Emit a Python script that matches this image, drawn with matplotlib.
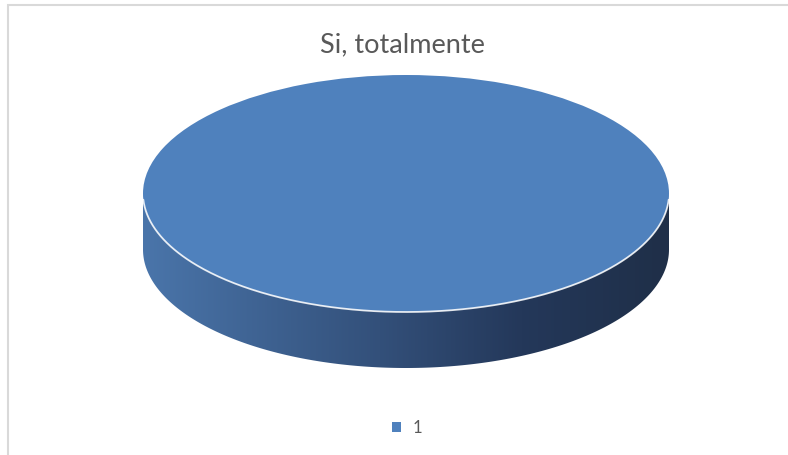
import numpy as np
import matplotlib
matplotlib.use('Agg')
import matplotlib.pyplot as plt
from matplotlib.colors import LinearSegmentedColormap
from matplotlib.patches import Polygon, Rectangle

# data
categories = ['1']
values = [1]
title = 'Si, totalmente'

top_color = '#4f81bd'
depth = 0.4726  # height of the disc side, in units of the ellipse half-height

fig = plt.figure(figsize=(7.88, 4.55), dpi=100)
fig.patch.set_facecolor('white')

# chart border (only the left and top edges are visible in the picture)
fig.patches.append(Rectangle((8 / 788, -0.2), 1.2, 0.2 + (455 - 5) / 455,
                             transform=fig.transFigure, fill=False,
                             edgecolor='#d9d9d9', lw=1.5, zorder=0))

ax = fig.add_axes([143 / 788, (455 - 368) / 455, 526 / 788, 293 / 455])

# side of the disc: band under the lower half of the top ellipse
th = np.linspace(np.pi, 2 * np.pi, 300)
xs = np.cos(th)
ys = np.sin(th)
side_xy = np.concatenate([np.column_stack([xs, ys]),
                          np.column_stack([xs[::-1], ys[::-1] - depth])])
side = Polygon(side_xy, closed=True, facecolor='none', edgecolor='none')
ax.add_patch(side)
cmap = LinearSegmentedColormap.from_list(
    'side', [(0.0, '#4a75aa'), (0.45, '#33507a'), (0.72, '#24385a'), (1.0, '#1f2f48')])
grad = np.linspace(0, 1, 256).reshape(1, -1)
im = ax.imshow(grad, cmap=cmap, extent=(-1, 1, -1 - depth, 0),
               aspect='auto', interpolation='bilinear', zorder=1)
im.set_clip_path(side)

# top face from the pie itself
wedges, _ = ax.pie(values, colors=[top_color], radius=1, center=(0, 0),
                   startangle=90, frame=True,
                   wedgeprops=dict(edgecolor='none', zorder=2))

# light rim along the front edge of the top face
ax.plot(xs[5:-5], ys[5:-5], color='white', lw=1.3, alpha=0.85, zorder=3,
        solid_capstyle='round')

ax.set_aspect('auto')
ax.set_xlim(-1, 1)
ax.set_ylim(-1 - depth, 1)
ax.axis('off')

fig.text(402 / 788, 1 - 45 / 455, title, ha='center', va='center',
         fontsize=19.5, color='#595959', family='Lato')

fig.legend(wedges, categories, loc='center',
           bbox_to_anchor=(407 / 788, 1 - 428 / 455), frameon=False,
           handlelength=0.5, handleheight=0.5, handletextpad=0.7,
           prop=dict(family='Lato', size=12), labelcolor='#595959')

fig.savefig('out.png', dpi=100)
